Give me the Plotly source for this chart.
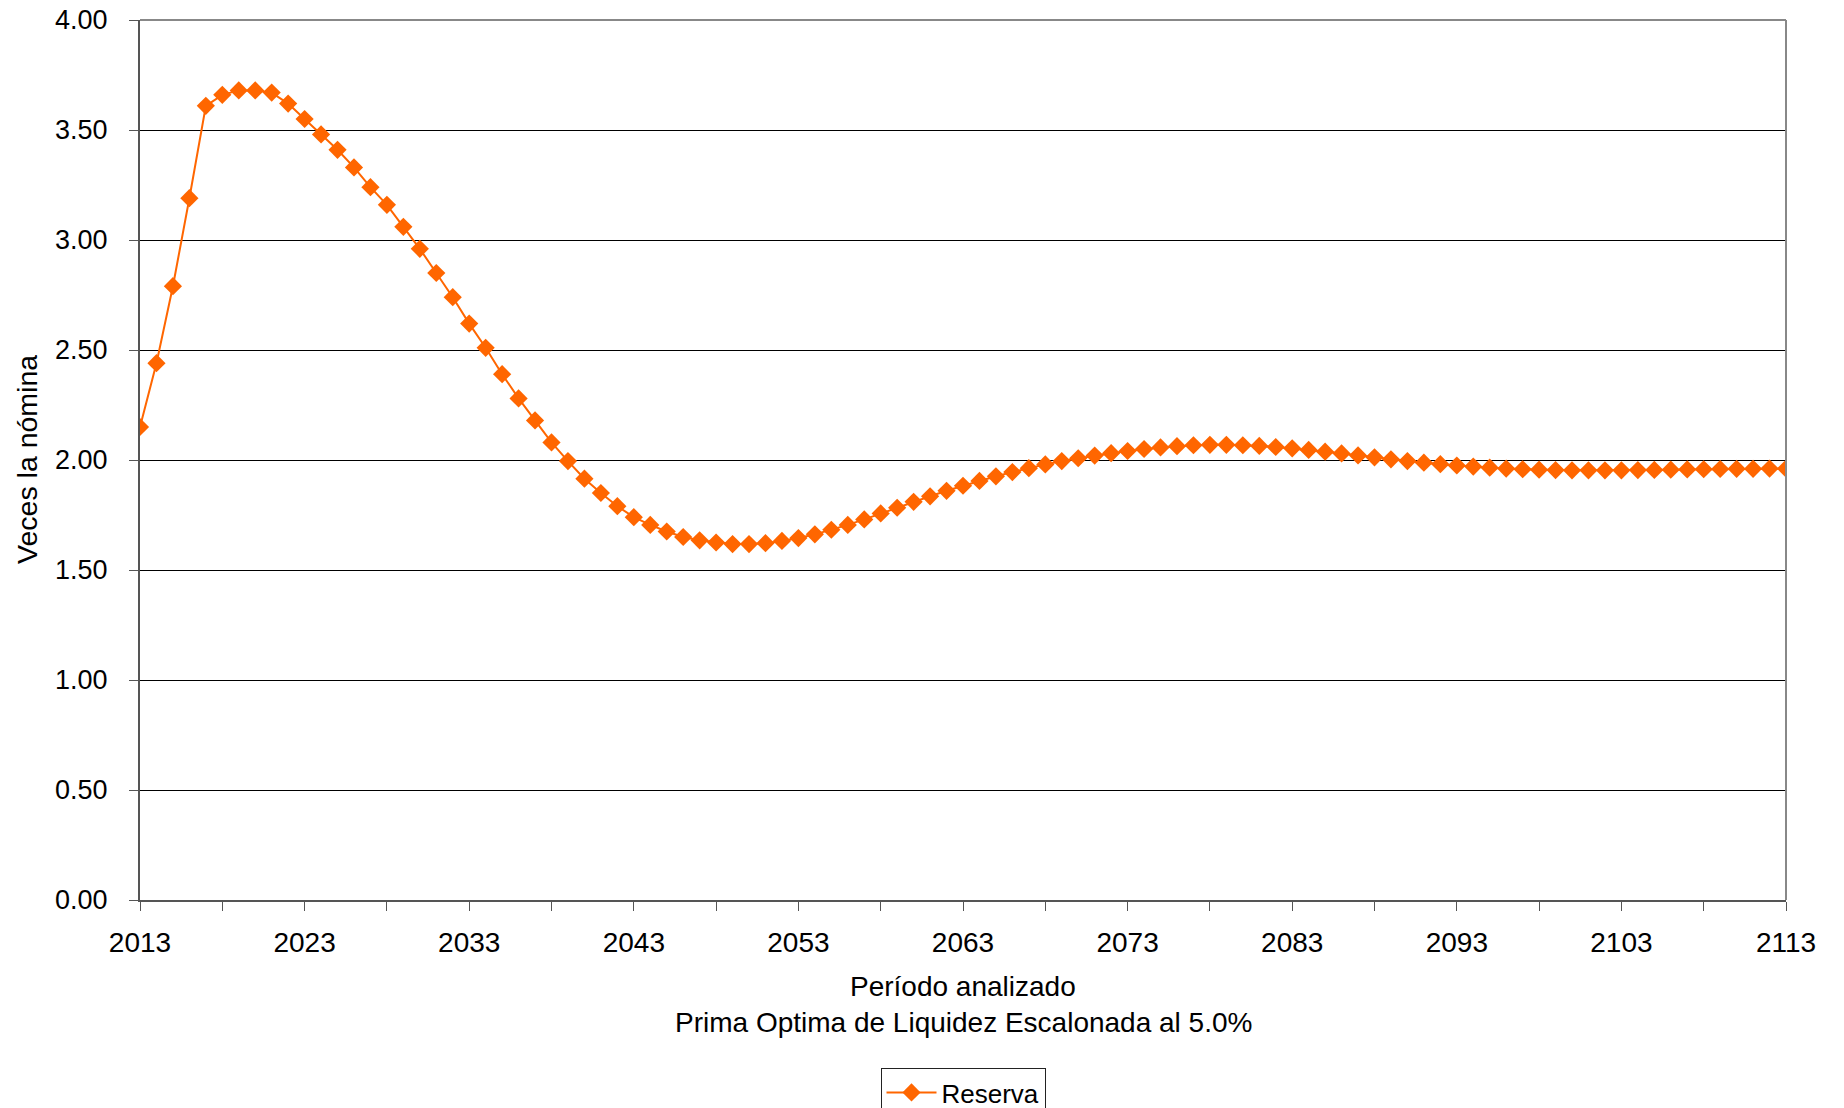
import plotly.graph_objects as go

years = list(range(2013, 2114))
reserva = [
    2.15, 2.44, 2.79, 3.19, 3.61, 3.66, 3.68, 3.68, 3.67, 3.62,  # 2013-2022
    3.55, 3.48, 3.41, 3.33, 3.24, 3.16, 3.06, 2.96, 2.85, 2.74,  # 2023-2032
    2.62, 2.51, 2.39, 2.28, 2.18, 2.08, 1.995, 1.915, 1.85, 1.79,  # 2033-2042
    1.74, 1.705, 1.675, 1.65, 1.635, 1.625, 1.618, 1.618, 1.622, 1.632,  # 2043-2052
    1.645, 1.662, 1.683, 1.705, 1.73, 1.757, 1.783, 1.81, 1.835, 1.86,  # 2053-2062
    1.883, 1.905, 1.926, 1.945, 1.963, 1.98, 1.995, 2.008, 2.02, 2.031,  # 2063-2072
    2.041, 2.05, 2.057, 2.063, 2.067, 2.069, 2.069, 2.067, 2.064, 2.059,  # 2073-2082
    2.053, 2.046, 2.038, 2.03, 2.021, 2.012, 2.003, 1.995, 1.988, 1.981,  # 2083-2092
    1.975, 1.97, 1.965, 1.961, 1.958, 1.956, 1.954, 1.953, 1.953, 1.953,  # 2093-2102
    1.953, 1.954, 1.955, 1.956, 1.957, 1.958, 1.959, 1.96, 1.96, 1.961,  # 2103-2112
    1.961,  # 2113
]
y_ticks = [0, 0.5, 1.0, 1.5, 2.0, 2.5, 3.0, 3.5, 4.0]

series_name = "Reserva"
x_title_1 = "Período analizado"
x_title_2 = "Prima Optima de Liquidez Escalonada al 5.0%"
y_title = "Veces la nómina"

ORANGE = "#FF6600"
FONT = "Liberation Sans, Arial, sans-serif"

# body margin is removed below, so figure coordinates == page coordinates
W, H = 1844, 1108
L, T = 140, 20
RIGHT, BOTTOM = 1786, 900
R, B = W - RIGHT, H - BOTTOM
pw, ph = RIGHT - L, BOTTOM - T

fig = go.Figure()
fig.add_trace(go.Scatter(
    x=years, y=reserva, mode="lines+markers", name=series_name,
    line=dict(color=ORANGE, width=2),
    marker=dict(symbol="diamond", size=14, color=ORANGE),
))

fig.update_layout(
    width=W, height=H,
    margin=dict(l=L, r=R, t=T, b=B, autoexpand=False),
    paper_bgcolor="white", plot_bgcolor="white",
    font=dict(family=FONT, size=27, color="black"),
    showlegend=True,
    legend=dict(
        orientation="h", x=0.5, xanchor="center",
        y=(BOTTOM - 1068) / ph, yanchor="top",
        bordercolor="#222222", borderwidth=1,
        font=dict(size=26, family=FONT),
        itemwidth=50,
    ),
    xaxis=dict(
        range=[2013, 2113], tick0=2013, dtick=10,
        showgrid=False, zeroline=False,
        showline=True, linecolor="#555555", linewidth=2,
        ticks="outside", ticklen=9, tickcolor="#555555", tickwidth=1,
        minor=dict(tick0=2013, dtick=5, ticks="outside", ticklen=9,
                   tickcolor="#555555", tickwidth=1, showgrid=False),
        tickfont=dict(size=28, family=FONT),
        ticklabelstandoff=7,
        ticklabeloverflow="allow",
        automargin=False,
    ),
    yaxis=dict(
        range=[0, 4], tickvals=y_ticks,
        ticktext=[f"{v:.2f}" for v in y_ticks],
        showgrid=True, gridcolor="black", gridwidth=1,
        zeroline=False,
        showline=True, linecolor="#555555", linewidth=2,
        ticks="outside", ticklen=9, tickcolor="#555555", tickwidth=1,
        tickfont=dict(size=27, family=FONT),
        ticklabelstandoff=16,
        ticklabeloverflow="allow",
        automargin=False,
    ),
    shapes=[
        dict(type="line", xref="paper", yref="paper", x0=0, x1=1, y0=1, y1=1,
             line=dict(color="#888888", width=2)),
        dict(type="line", xref="paper", yref="paper", x0=1, x1=1, y0=0, y1=1,
             line=dict(color="#888888", width=2)),
    ],
    annotations=[
        dict(text=x_title_1, xref="paper", yref="paper", x=0.5,
             y=(BOTTOM - 986) / ph, xanchor="center", yanchor="middle",
             showarrow=False, font=dict(size=28, family=FONT)),
        dict(text=x_title_2, xref="paper", yref="paper", x=0.5,
             y=(BOTTOM - 1022) / ph, xanchor="center", yanchor="middle",
             showarrow=False, font=dict(size=28, family=FONT)),
        dict(text=y_title, xref="paper", yref="paper",
             x=(27 - L) / pw, y=0.5, xanchor="center", yanchor="middle",
             textangle=-90, showarrow=False, font=dict(size=28.5, family=FONT)),
    ],
)

fig.write_html(
    "out.html",
    config={"displayModeBar": False},
    post_script="document.body.style.margin='0';document.body.style.overflow='hidden';",
)
